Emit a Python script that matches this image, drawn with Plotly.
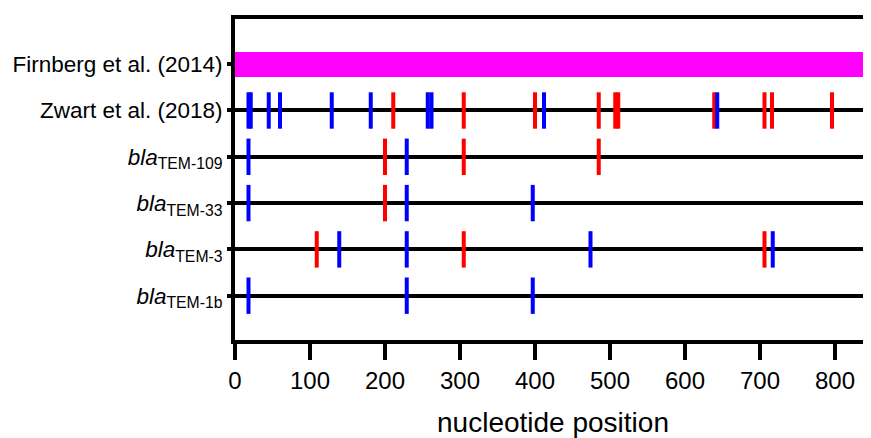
import plotly.graph_objects as go

# Row labels (top to bottom) and their y positions
row_labels = [
    "Firnberg et al. (2014)",
    "Zwart et al. (2018)",
    "<i>bla</i><sub>TEM-109</sub>",
    "<i>bla</i><sub>TEM-33</sub>",
    "<i>bla</i><sub>TEM-3</sub>",
    "<i>bla</i><sub>TEM-1b</sub>",
]
row_y = [6, 5, 4, 3, 2, 1]

# Firnberg: full-length coverage (nucleotide span)
firnberg_start = 0
firnberg_end = 861

# Mutation positions (nucleotides): blue and red marks per row
zwart_blue = [18, 21, 45, 60, 129, 181, 257, 262, 412, 643]
zwart_red = [211, 305, 400, 485, 507, 511, 639, 706, 716, 796]
tem109_blue = [18, 229]
tem109_red = [200, 305, 485]
tem33_blue = [18, 229, 397]
tem33_red = [200]
tem3_blue = [139, 229, 474, 717]
tem3_red = [109, 305, 706]
tem1b_blue = [18, 229, 397]
tem1b_red = []

x_ticks = [0, 100, 200, 300, 400, 500, 600, 700, 800]

rows = [
    (5, zwart_blue, zwart_red),
    (4, tem109_blue, tem109_red),
    (3, tem33_blue, tem33_red),
    (2, tem3_blue, tem3_red),
    (1, tem1b_blue, tem1b_red),
]

BLUE = "#0000FF"
RED = "#FF0000"
MAGENTA = "#FF00FF"

fig = go.Figure()

fig.add_trace(go.Bar(
    y=[6], x=[firnberg_end - firnberg_start], base=[firnberg_start],
    orientation="h", width=0.54, marker=dict(color=MAGENTA, line=dict(width=0)),
    showlegend=False, hoverinfo="skip",
))

red_x, red_y, blue_x, blue_y = [], [], [], []
for y, blues, reds in rows:
    red_x += reds
    red_y += [y] * len(reds)
    blue_x += blues
    blue_y += [y] * len(blues)

for xs, ys, col in [(red_x, red_y, RED), (blue_x, blue_y, BLUE)]:
    fig.add_trace(go.Scatter(
        x=xs, y=ys, mode="markers",
        marker=dict(symbol="line-ns", size=26, color=col,
                    line=dict(color=col, width=4)),
        showlegend=False, hoverinfo="skip", cliponaxis=False,
    ))

# page body has an 8px default margin, so the figure is sized to fit inside
fig.update_layout(
    width=863, height=430,
    margin=dict(l=227, r=0, t=11, b=98, pad=0),
    paper_bgcolor="white", plot_bgcolor="white",
    font=dict(family="Liberation Sans, Arial, sans-serif", color="black"),
    bargap=0,
)

fig.update_xaxes(
    range=[0, 848], tickvals=x_ticks, ticktext=[str(v) for v in x_ticks],
    showgrid=False, zeroline=False, automargin=False,
    showline=True, linecolor="black", linewidth=4, mirror=True,
    ticks="outside", ticklen=16, tickwidth=4, tickcolor="black",
    tickfont=dict(size=24), ticklabelstandoff=0,
    title=dict(text="nucleotide position", font=dict(size=28), standoff=24),
)
fig.update_yaxes(
    range=[0.043, 6.976], tickvals=row_y, ticktext=row_labels,
    showgrid=True, gridcolor="black", gridwidth=4, zeroline=False, automargin=False,
    showline=True, linecolor="black", linewidth=4, mirror=False,
    ticks="outside", ticklen=4, tickwidth=4, tickcolor="black",
    tickfont=dict(size=22.5), ticklabelstandoff=0,
)

fig.write_html("out.html")
